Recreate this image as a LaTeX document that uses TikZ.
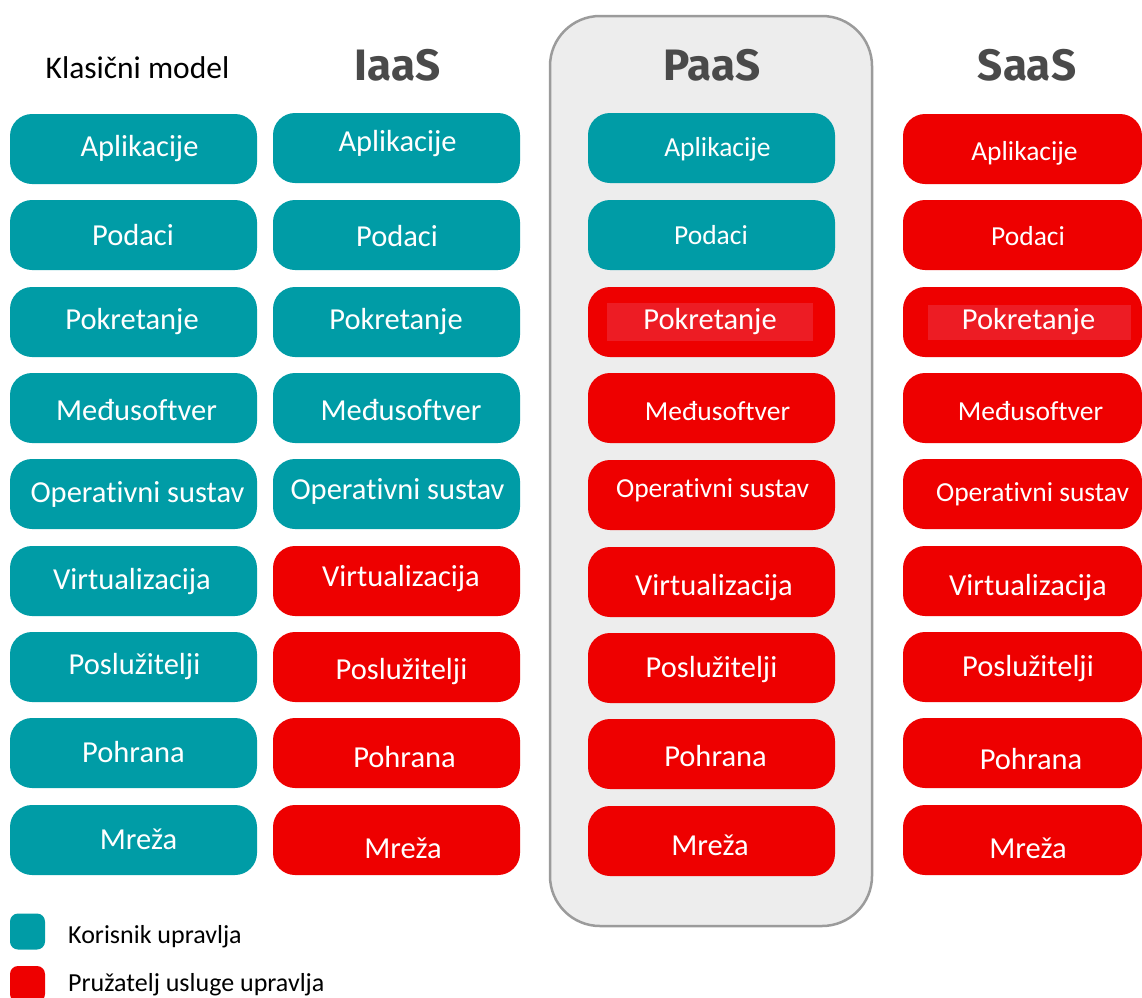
\documentclass[tikz,border=0pt]{standalone}
\usepackage{fontspec}
\setmainfont{Carlito}[Ligatures=NoCommon]
\newfontfamily\hdrfont{Fira Sans}
\definecolor{tealc}{RGB}{0,156,166}
\definecolor{redc}{RGB}{238,0,0}
\definecolor{redin}{RGB}{237,28,36}
\definecolor{panelbg}{RGB}{237,237,237}
\definecolor{panelln}{RGB}{155,155,155}
\definecolor{hdrc}{RGB}{74,74,74}
\tikzset{
  cellbox/.style={rounded corners=22pt, minimum width=247pt, minimum height=70pt, inner sep=0pt, draw=none, fill=#1},
  lblbig/.style={text=white, inner sep=0pt, font=\fontsize{30.5}{32}\selectfont},
  lblsml/.style={text=white, inner sep=0pt, font=\fontsize{27.5}{29}\selectfont},
  hdr/.style={text=hdrc, inner sep=0pt, font=\hdrfont\bfseries\fontsize{44}{46}\selectfont},
  legtxt/.style={text=black, anchor=west, inner sep=0pt, font=\fontsize{26}{28}\selectfont},
  legsq/.style={rounded corners=8pt, minimum width=35pt, minimum height=36pt, inner sep=0pt, fill=#1},
}
\begin{document}
\begin{tikzpicture}[x=1pt,y=-1pt]
\useasboundingbox (0,0) rectangle (1142,997);
% PaaS panel
\node[draw=panelln, line width=2.5pt, fill=panelbg, rounded corners=50pt, minimum width=322pt, minimum height=910pt, inner sep=0pt] (panel) at (711,471) {};
% headers
\node[text=black, inner sep=0pt, font=\fontsize{31.5}{33}\selectfont] (hk) at (137.5,68) {Klasični model};
\node[hdr] (hi) at (398,65) {IaaS};
\node[hdr] (hp) at (712,65) {PaaS};
\node[hdr] (hs) at (1027,65) {SaaS};
% cells: name/color/box x/box y/text x/text y/style/text
\foreach \n/\c/\bx/\by/\tx/\ty/\s/\t in {
 k1/tealc/133.5/149/139.5/149/lblbig/Aplikacije,
 k2/tealc/133.5/235/133/235/lblbig/Podaci,
 k3/tealc/133.5/322/132/322/lblbig/Pokretanje,
 k4/tealc/133.5/408/136.5/410/lblbig/Međusoftver,
 k5/tealc/133.5/494/137.5/494/lblbig/Operativni sustav,
 k6/tealc/133.5/581/132/582/lblbig/Virtualizacija,
 k7/tealc/133.5/667/134.5/667/lblbig/Poslužitelji,
 k8/tealc/133.5/753/133.5/752/lblbig/Pohrana,
 k9/tealc/133.5/840/138.5/839/lblbig/Mreža,
 i1/tealc/396.5/148/397.5/144/lblbig/Aplikacije,
 i2/tealc/396.5/235/397/236/lblbig/Podaci,
 i3/tealc/396.5/322/396/322/lblbig/Pokretanje,
 i4/tealc/396.5/408/401/410/lblbig/Međusoftver,
 i5/tealc/396.5/494/397.5/491/lblbig/Operativni sustav,
 i6/redc/396.5/581/401/579/lblbig/Virtualizacija,
 i7/redc/396.5/667/401.5/672/lblbig/Poslužitelji,
 i8/redc/396.5/753/404.5/757/lblbig/Pohrana,
 i9/redc/396.5/840/403/848/lblbig/Mreža,
 p1/tealc/711.5/148/717.5/149/lblsml/Aplikacije,
 p2/tealc/711.5/235/711/235/lblsml/Podaci,
 p4/redc/711.5/408/717.5/411/lblsml/Međusoftver,
 p5/redc/711.5/495/712.5/490/lblsml/Operativni sustav,
 p6/redc/711.5/582/714/588/lblbig/Virtualizacija,
 p7/redc/711.5/668/711.5/670/lblbig/Poslužitelji,
 p8/redc/711.5/754/715.5/756/lblbig/Pohrana,
 p9/redc/711.5/841/710/845/lblbig/Mreža}
{
  \node[cellbox=\c] (\n) at (\bx,\by) {};
  \node[\s] (\n t) at (\tx,\ty) {\t};
}
\foreach \n/\by/\tx/\ty/\s/\t in {
 s1/149/1024.5/153/lblsml/Aplikacije,
 s2/235/1028/236/lblsml/Podaci,
 s4/408/1030.5/411/lblsml/Međusoftver,
 s5/494/1032.5/494/lblsml/Operativni sustav,
 s6/581/1028/588/lblbig/Virtualizacija,
 s7/667/1028/669/lblbig/Poslužitelji,
 s8/753/1031/759/lblbig/Pohrana,
 s9/840/1028/848/lblbig/Mreža}
{
  \node[cellbox=redc, minimum width=239pt] (\n) at (1022.5,\by) {};
  \node[\s] (\n t) at (\tx,\ty) {\t};
}
% Pokretanje cells with inner rectangle
\node[cellbox=redc] (p3) at (711.5,322) {};
\node[fill=redin, minimum width=206pt, minimum height=38pt, inner sep=0pt] (p3in) at (710,322) {};
\node[lblbig] (p3t) at (710,322) {Pokretanje};
\node[cellbox=redc, minimum width=239pt] (s3) at (1022.5,322) {};
\node[fill=redin, minimum width=203pt, minimum height=35pt, inner sep=0pt] (s3in) at (1029.5,322.5) {};
\node[lblbig] (s3t) at (1028.5,322) {Pokretanje};
% legend
\node[legsq=tealc] (lk) at (27.5,931.5) {};
\node[legtxt] (lkt) at (68,937) {Korisnik upravlja};
\node[legsq=redc] (lp) at (27.5,984) {};
\node[legtxt] (lpt) at (68,985) {Pružatelj usluge upravlja};
\end{tikzpicture}
\end{document}
